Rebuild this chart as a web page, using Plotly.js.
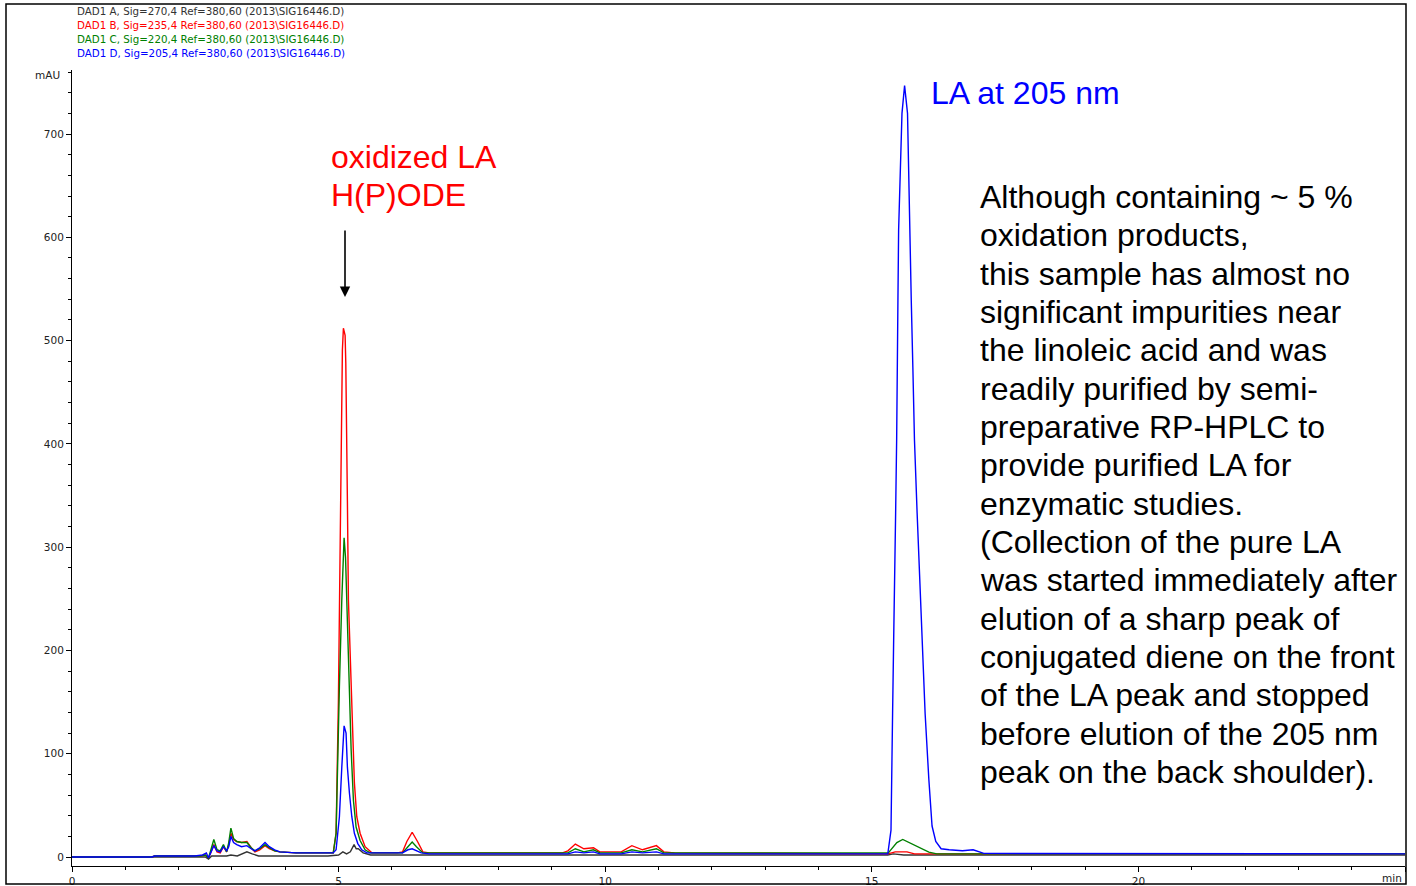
<!DOCTYPE html>
<html>
<head>
<meta charset="utf-8">
<script src="https://cdn.plot.ly/plotly-3.0.1.min.js"></script>
<style>html,body{margin:0;padding:0;background:#fff;}#chart{width:1416px;height:886px;}</style>
</head>
<body>
<div id="chart"></div>
<script>
// ---- Data (retention time in min, absorbance in mAU) ----
const seriesNames = [
  "DAD1 A, Sig=270,4 Ref=380,60 (2013\\SIG16446.D)",
  "DAD1 B, Sig=235,4 Ref=380,60 (2013\\SIG16446.D)",
  "DAD1 C, Sig=220,4 Ref=380,60 (2013\\SIG16446.D)",
  "DAD1 D, Sig=205,4 Ref=380,60 (2013\\SIG16446.D)"
];
const seriesColors = ["#333333", "#ff0000", "#008000", "#0000ff"];

// A: 270 nm
const tA = [0, 1.5, 2.5, 2.56, 2.62, 2.9, 2.98, 3.1, 3.2, 3.28, 3.38, 3.5, 4.8, 5.0, 5.08, 5.15, 5.22, 5.29, 5.33, 5.37, 5.46, 5.6, 15.3, 15.4, 15.6, 25];
const yA = [0, 0, 0, -2, 1, 1, 2, 1, 3, 5, 3, 1, 1, 2, 5, 3, 5, 12, 8, 8, 4, 2, 2, 3, 2, 2];

// B: 235 nm
const tB = [0, 1.5, 1.55, 2.4, 2.5, 2.56, 2.6, 2.66, 2.72, 2.78, 2.84, 2.9, 2.94, 2.98, 3.03, 3.09, 3.18, 3.28, 3.36, 3.43, 3.52, 3.62, 3.7, 3.8, 3.9, 4.2, 4.85, 4.9,
  4.953, 4.977, 4.996, 5.02, 5.041, 5.047, 5.071, 5.09, 5.11, 5.122, 5.135, 5.154, 5.165, 5.184, 5.229, 5.259, 5.296, 5.341, 5.403, 5.497, 5.623,
  6.1, 6.2, 6.28, 6.38, 6.48, 6.58, 6.7, 9.2, 9.3, 9.44, 9.6, 9.78, 9.9, 10.3, 10.5, 10.7, 10.96, 11.1, 11.3, 15.3, 15.44, 15.66, 15.8, 25];
const yB = [0, 0, 1, 1, 2, -1, 4, 12, 5, 4, 10, 5, 12, 23, 17, 15, 14, 15, 9, 5, 7, 11, 8, 6, 5, 4, 4, 4,
  23, 87, 150, 260, 345, 418, 491, 512, 508, 505, 478, 410, 345, 249, 168, 120, 72, 39, 23, 10, 4,
  4, 5, 15, 24, 15, 5, 4, 4, 6, 12.5, 8, 9, 5, 5, 11, 7, 11, 5, 4, 3, 5, 5, 3, 3];

// C: 220 nm
const tC = [0, 1.5, 1.55, 2.4, 2.5, 2.56, 2.6, 2.66, 2.72, 2.78, 2.84, 2.9, 2.94, 2.98, 3.03, 3.09, 3.18, 3.28, 3.36, 3.43, 3.52, 3.62, 3.7, 3.8, 3.9, 4.2, 4.85, 4.9,
  4.953, 4.977, 5.015, 5.06, 5.08, 5.103, 5.13, 5.154, 5.184, 5.203, 5.235, 5.278, 5.328, 5.403, 5.497, 5.59,
  6.2, 6.3, 6.38, 6.46, 6.58, 9.3, 9.44, 9.6, 9.78, 9.9, 10.3, 10.5, 10.7, 10.96, 11.1, 15.31, 15.47, 15.58, 15.72, 15.88, 16.07, 16.22, 25];
const yC = [0, 0, 1, 1, 2, -1, 6, 17, 7, 6, 12, 5, 14, 28, 18, 15, 14, 14, 9, 6, 8, 12, 9, 6, 5, 4, 4, 4,
  23, 87, 165, 249, 290, 309, 290, 249, 200, 152, 104, 55, 29, 16, 7, 4,
  4, 10, 14.5, 10, 4, 4, 8, 5, 7, 4, 4, 7, 5, 8, 4, 4, 14, 17, 13.5, 8.7, 4.7, 3, 3];

// D: 205 nm
const tD = [0, 1.5, 1.55, 2.3, 2.45, 2.52, 2.56, 2.6, 2.66, 2.72, 2.78, 2.84, 2.9, 2.94, 2.98, 3.03, 3.09, 3.18, 3.28, 3.36, 3.43, 3.52, 3.62, 3.7, 3.8, 3.9, 4.2, 4.85, 4.9,
  4.953, 5.015, 5.06, 5.103, 5.14, 5.165, 5.203, 5.248, 5.296, 5.36, 5.435, 5.53,
  6.2, 6.3, 6.38, 6.46, 6.55, 6.7, 9.3, 9.44, 9.6, 9.78, 9.9, 10.3, 10.5, 10.7, 10.96, 11.1,
  15.3, 15.36, 15.379, 15.39, 15.41, 15.422, 15.447, 15.466, 15.485, 15.49, 15.503, 15.535, 15.566, 15.615,
  15.67, 15.69, 15.72, 15.74, 15.77, 15.8, 15.85, 15.9, 15.94, 16.0, 16.07, 16.13, 16.2, 16.3, 16.45, 16.7, 16.9, 17.0, 17.1, 25];
const yD = [0, 0, 1, 1, 2, 4, -1, 4, 11, 6, 5, 10, 6, 10, 20, 14, 12, 10, 11, 8, 6, 9, 14, 10, 7, 5, 4, 4, 4,
  7, 39, 87, 127, 120, 87, 62, 39, 23, 13, 7, 4,
  4, 7, 8, 6, 4, 3, 3, 5, 4, 5, 3, 3, 5, 4, 5, 3,
  3, 26, 75, 139, 210, 268, 333, 404, 474, 539, 607, 668, 720, 747,
  720, 668, 607, 539, 474, 404, 333, 268, 210, 139, 75, 30, 15, 8, 7, 6, 7, 5, 3.5, 3];

const xMajorTicks = [0, 5, 10, 15, 20, 25];
const xMajorLabels = ["0", "5", "10", "15", "20", ""];
const yMajorTicks = [0, 100, 200, 300, 400, 500, 600, 700];
const yMajorLabels = ["0", "100", "200", "300", "400", "500", "600", "700"];

const peakLabel1 = ["oxidized LA", "H(P)ODE"];
const peakLabel2 = "LA at 205 nm";
const noteLines = [
  "Although containing ~ 5 %",
  "oxidation products,",
  "this sample has almost no",
  "significant impurities near",
  "the linoleic acid and was",
  "readily purified by semi-",
  "preparative RP-HPLC to",
  "provide purified LA for",
  "enzymatic studies.",
  "(Collection of the pure LA",
  "was started immediately after",
  "elution of a sharp peak of",
  "conjugated diene on the front",
  "of the LA peak and stopped",
  "before elution of the 205 nm",
  "peak on the back shoulder)."
];

// ---- Layout helpers (pixel -> paper) ----
const L = 72, R = 1405, T = 70, B = 866;
const px = x => (x - L) / (R - L);
const py = y => (B - y) / (B - T);
const SANS = "Liberation Sans, Arial, Helvetica, sans-serif";
const SMALL = "DejaVu Sans, Verdana, sans-serif";

const times = [tA, tB, tC, tD];
const vals = [yA, yB, yC, yD];
const traces = times.map((t, i) => ({
  x: t, y: vals[i], type: "scatter", mode: "lines", name: seriesNames[i],
  line: {color: seriesColors[i], width: 1.4}, hoverinfo: "skip"
}));

const annotations = [];
seriesNames.forEach((s, i) => annotations.push({
  xref: "paper", yref: "paper", x: px(75), y: py(11 + 14 * i), xanchor: "left", yanchor: "middle",
  text: s, showarrow: false, font: {family: SMALL, size: 10.3, color: seriesColors[i]}
}));
annotations.push({xref: "paper", yref: "paper", x: px(62), y: py(75), xanchor: "right", yanchor: "middle",
  text: "mAU", showarrow: false, font: {family: SMALL, size: 10.5, color: "#222"}});
annotations.push({xref: "paper", yref: "paper", x: px(1404), y: py(878), xanchor: "right", yanchor: "middle",
  text: "min", showarrow: false, font: {family: SMALL, size: 10.5, color: "#222"}});
peakLabel1.forEach((s, i) => annotations.push({
  xref: "paper", yref: "paper", x: px(329), y: py(157 + 38 * i), xanchor: "left", yanchor: "middle",
  text: s, showarrow: false, font: {family: SANS, size: 32, color: "#ff0000"}
}));
annotations.push({xref: "paper", yref: "paper", x: px(929), y: py(93), xanchor: "left", yanchor: "middle",
  text: peakLabel2, showarrow: false, font: {family: SANS, size: 32, color: "#0000ff"}});
noteLines.forEach((s, i) => annotations.push({
  xref: "paper", yref: "paper", x: px(978), y: py(197 + 38.33 * i), xanchor: "left", yanchor: "middle",
  text: s, showarrow: false, font: {family: SANS, size: 32, color: "#000"}
}));
annotations.push({xref: "paper", yref: "paper", x: px(345), y: py(297), text: "", showarrow: true,
  ax: 0, ay: -68, arrowhead: 2, arrowsize: 1.3, arrowwidth: 1.6, arrowcolor: "#000", standoff: 0, startstandoff: 0});

const axisCommon = {
  showgrid: false, zeroline: false, showline: true, linecolor: "#000", linewidth: 1,
  ticks: "outside", ticklen: 5, tickwidth: 1, tickcolor: "#000", fixedrange: true,
  tickfont: {family: SMALL, size: 10.5, color: "#222"}
};

const layout = {
  width: 1416, height: 886, paper_bgcolor: "#fff", plot_bgcolor: "#fff",
  margin: {l: L, r: 1416 - R, t: T, b: 886 - B, pad: 0},
  showlegend: false, hovermode: false,
  xaxis: Object.assign({}, axisCommon, {
    range: [0, 25], tickmode: "array", tickvals: xMajorTicks, ticktext: xMajorLabels,
    minor: {tickmode: "linear", tick0: 0, dtick: 1, ticks: "outside", ticklen: 3, tickcolor: "#000", showgrid: false}
  }),
  yaxis: Object.assign({}, axisCommon, {
    range: [-8.7, 762], tickmode: "array", tickvals: yMajorTicks, ticktext: yMajorLabels,
    minor: {tickmode: "linear", tick0: 0, dtick: 20, ticks: "outside", ticklen: 3, tickcolor: "#000", showgrid: false}
  }),
  shapes: [{type: "rect", xref: "paper", yref: "paper", x0: px(6), x1: px(1406), y0: py(884), y1: py(4),
    line: {color: "#000", width: 1.5}, fillcolor: "rgba(0,0,0,0)", layer: "above"}],
  annotations: annotations
};

Plotly.newPlot("chart", traces, layout, {displayModeBar: false, staticPlot: true});
</script>
</body>
</html>
